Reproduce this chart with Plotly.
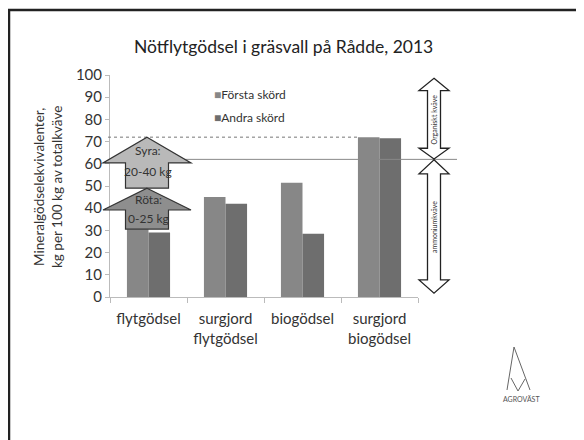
import plotly.graph_objects as go

categories = ["flytgödsel", "surgjord<br>flytgödsel", "biogödsel", "surgjord<br>biogödsel"]
forsta_skord = [30.5, 45, 51.5, 72]
andra_skord = [29, 42, 28.5, 71.5]
series_names = ["Första skörd", "Andra skörd"]
series_colors = ["#878787", "#6e6e6e"]
y_ticks = [0, 10, 20, 30, 40, 50, 60, 70, 80, 90, 100]

# page offset (browser body margin)
OX, OY = 8, 8
W, H = 584 - OX, 440 - OY
# plot area in page pixels
PL, PR, PT, PB = 110, 418, 75, 297
L, T = PL - OX, PT - OY
R, B = W - (PR - OX), H - (PB - OY)
PW = PR - PL
PH = PB - PT


def px(x):
    return (x - PL) / PW


def pyp(y):
    return (PB - y) / PH


fig = go.Figure()
for name, vals, col in zip(series_names, [forsta_skord, andra_skord], series_colors):
    fig.add_trace(go.Bar(x=categories, y=vals, name=name,
                         marker=dict(color=col, line=dict(width=0))))

shapes = []
shapes.append(dict(type="line", xref="paper", yref="y", x0=px(108), x1=px(360), y0=72, y1=72,
                   line=dict(color="#777", width=1, dash="dot")))
shapes.append(dict(type="line", xref="paper", yref="y", x0=px(173), x1=px(457), y0=62, y1=62,
                   line=dict(color="#888", width=1)))


def up_arrow(cx, apex, base, bottom, hw, sw, fill):
    pts = [(cx, apex), (cx + hw, base), (cx + sw, base), (cx + sw, bottom),
           (cx - sw, bottom), (cx - sw, base), (cx - hw, base)]
    path = "M " + " L ".join(f"{px(x)},{y}" for x, y in pts) + " Z"
    return dict(type="path", xref="paper", yref="y", path=path, fillcolor=fill,
                line=dict(color="#333", width=1.2))


shapes.append(up_arrow(147, 72, 60.4, 49, 44, 21.5, "#b9b9b9"))
shapes.append(up_arrow(147, 49, 39.2, 30.6, 44, 21.5, "#8e8e8e"))


def double_arrow(cx, top, top_base, bot_base, bot, hw, sw):
    pts = [(cx, top), (cx + hw, top_base), (cx + sw, top_base), (cx + sw, bot_base),
           (cx + hw, bot_base), (cx, bot), (cx - hw, bot_base), (cx - sw, bot_base),
           (cx - sw, top_base), (cx - hw, top_base)]
    path = "M " + " L ".join(f"{px(x)},{y}" for x, y in pts) + " Z"
    return dict(type="path", xref="paper", yref="y", path=path, fillcolor="white",
                line=dict(color="#222", width=1.3))


shapes.append(double_arrow(434, 98.5, 93, 67, 62.2, 15, 6.5))
shapes.append(double_arrow(434, 61.8, 55.5, 7.7, 1.7, 15, 6.5))

# frame
shapes.append(dict(type="line", xref="paper", yref="paper", x0=px(8), x1=px(584), y0=pyp(10), y1=pyp(10),
                   line=dict(color="#222", width=2.5)))
shapes.append(dict(type="line", xref="paper", yref="paper", x0=px(9), x1=px(9), y0=pyp(10), y1=pyp(440),
                   line=dict(color="#222", width=2.5)))

# logo
logo = [(507, 390), (514, 347), (530, 390)]
shapes.append(dict(type="path", xref="paper", yref="paper",
                   path="M " + " L ".join(f"{px(x)},{pyp(y)}" for x, y in logo),
                   line=dict(color="#666", width=1)))
logo_v = [(511, 378), (518, 391), (525, 379)]
shapes.append(dict(type="path", xref="paper", yref="paper",
                   path="M " + " L ".join(f"{px(x)},{pyp(y)}" for x, y in logo_v),
                   line=dict(color="#666", width=1)))

annotations = []
FONT = "Lato"


def ann(text, x, y, yref="paper", size=12, angle=0, color="#333", xanchor="center"):
    annotations.append(dict(text=text, xref="paper", yref=yref, x=x, y=y, xanchor=xanchor,
                            yanchor="middle", textangle=angle, showarrow=False,
                            font=dict(size=size, color=color, family=FONT)))


ann("Nötflytgödsel i gräsvall på Rådde, 2013", px(283), pyp(47), size=17.5, color="#222")
ann("Mineralgödselekvivalenter,<br>kg per 100 kg av totalkväve", px(48), pyp(187), size=13.5, angle=-90)
for txt, yy in [("Syra:", 66), ("20-40 kg", 56.5), ("Röta:", 44), ("0-25 kg", 35.5)]:
    ann(txt, px(148), yy, yref="y", size=12)
ann("Organiskt kväve", px(434), 80, yref="y", size=7, angle=-90)
ann("ammoniumkväve", px(434), 31.5, yref="y", size=7, angle=-90)
ann("AGROVÄST", px(521), pyp(399), size=7, color="#555")
for i, (name, col) in enumerate(zip(series_names, series_colors)):
    ann(f"<span style='color:{col}'>■</span>{name}", px(212), pyp(94 + 23 * i), size=12, xanchor="left")

fig.update_layout(
    width=W, height=H,
    margin=dict(l=L, r=R, t=T, b=B, autoexpand=False),
    paper_bgcolor="white", plot_bgcolor="white",
    barmode="group", bargap=0.44, bargroupgap=0,
    font=dict(family=FONT, size=15, color="#333"),
    showlegend=False,
    shapes=shapes, annotations=annotations,
)
fig.update_yaxes(range=[0, 100], tickvals=y_ticks, showgrid=False, showline=True,
                 linecolor="#bbb", linewidth=1, ticks="outside", ticklen=4, tickcolor="#bbb",
                 tickfont=dict(size=15, color="#333"), zeroline=False)
fig.update_xaxes(showgrid=False, showline=True, linecolor="#bbb", linewidth=1,
                 ticks="outside", tickson="boundaries", ticklen=5, tickcolor="#bbb",
                 ticklabelstandoff=8,
                 tickfont=dict(size=15, color="#333"))

fig.write_html("out.html")
